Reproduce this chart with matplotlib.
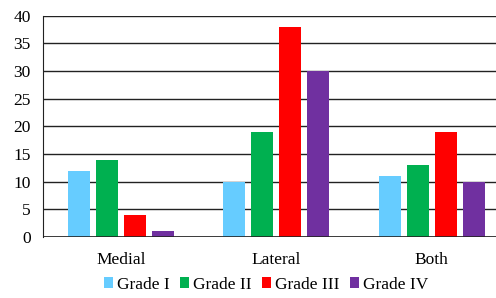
import numpy as np
import matplotlib.pyplot as plt

plt.rcParams['font.family'] = 'Liberation Serif'

locations = ['Medial', 'Lateral', 'Both']
grade_1 = [12, 10, 11]
grade_2 = [14, 19, 13]
grade_3 = [4, 38, 19]
grade_4 = [1, 30, 10]
labels = ['Grade I', 'Grade II', 'Grade III', 'Grade IV']
colors = ['#66CCFF', '#00B050', '#FF0000', '#7030A0']

fig = plt.figure(figsize=(4.96, 2.98), dpi=100)
ax = fig.add_axes([0.087, 0.205, 0.94, 0.742])

x = np.arange(len(locations))
w = 0.142
step = 0.18
for i, (vals, lab, c) in enumerate(zip([grade_1, grade_2, grade_3, grade_4], labels, colors)):
    ax.bar(x + (i - 1.5) * step, vals, w, color=c, label=lab, zorder=3)

ax.set_xlim(-0.5, 2.5)
ax.set_ylim(0, 40)
ax.set_yticks(range(0, 41, 5))
ax.set_xticks(x)
ax.set_xticklabels(locations)
ax.tick_params(axis='both', length=0, labelsize=12.5)
ax.tick_params(axis='x', pad=11)
ax.tick_params(axis='y', pad=9)
ax.grid(axis='y', color='#222222', linewidth=1, zorder=0)
for s in ['top', 'right', 'bottom']:
    ax.spines[s].set_visible(False)
ax.spines['left'].set_color('#222222')
ax.axhline(0, color='#222222', linewidth=1.2, zorder=4)

fig.legend(loc='lower center', bbox_to_anchor=(0.536, -0.035), ncol=4, frameon=False,
           fontsize=12.5, handlelength=0.55, handleheight=0.6, handletextpad=0.2, columnspacing=0.6)

fig.savefig('out.png', dpi=100)
